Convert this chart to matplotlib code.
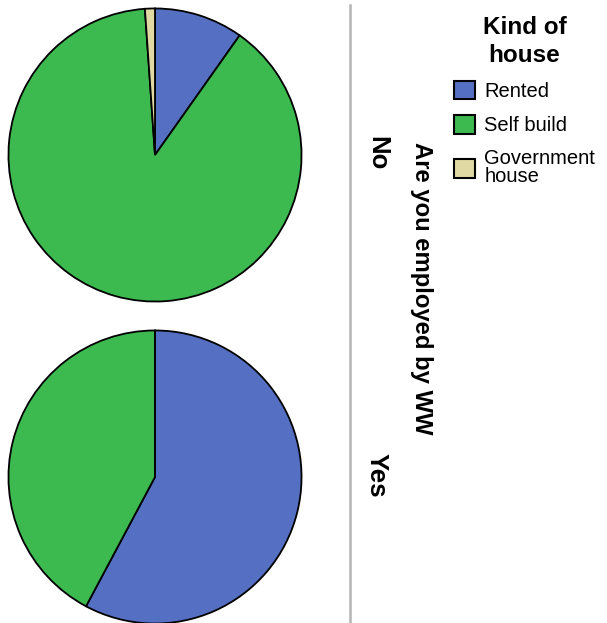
import matplotlib.pyplot as plt
import matplotlib.patches as mpatches

plt.rcParams['font.family'] = ['Liberation Sans', 'DejaVu Sans']

# data (percent of respondents per kind of house)
kinds = ['Rented', 'Self build', 'Government\nhouse']
colors = ['#5570C2', '#3DBA4F', '#E0D9A4']
groups = ['No', 'Yes']
share_no = [9.8, 89.1, 1.1]
share_yes = [57.8, 42.2, 0.0]
shares = [share_no, share_yes]

W, H = 607, 623
fig = plt.figure(figsize=(W / 100, H / 100), dpi=100)

# pies, one row per group
centers = [(155, 155), (155, 477)]
r = 148
for (cx, cy), vals in zip(centers, shares):
    ax = fig.add_axes([(cx - r) / W, 1 - (cy + r) / H, 2 * r / W, 2 * r / H])
    ax.pie(vals, colors=colors, startangle=90, counterclock=False,
           wedgeprops=dict(edgecolor='black', linewidth=1.3))
    ax.set_aspect('equal')
    ax.set_xlim(-1.01, 1.01)
    ax.set_ylim(-1.01, 1.01)

# panel divider
fig.add_artist(plt.Line2D([350 / W, 350 / W], [1 - 5 / H, 0.0],
                          color='#B4B4B4', linewidth=1.8))

# row labels and row title
for (cx, cy), g in zip(centers, groups):
    fig.text(377 / W, 1 - (cy - 2) / H, g, rotation=-90, ha='center', va='center',
             fontsize=18.5, fontweight='bold')
fig.text(422 / W, 1 - 288 / H, 'Are you employed by WW', rotation=-90,
         ha='center', va='center', fontsize=17.2, fontweight='bold')

# legend
handles = [mpatches.Patch(facecolor=c, edgecolor='black', linewidth=1.5) for c in colors]
leg = fig.legend(handles, kinds, loc='upper left',
                 bbox_to_anchor=(442 / W, 1 - 4 / H), frameon=False,
                 title='Kind of\nhouse', fontsize=14.5,
                 handlelength=1.05, handleheight=1.05, handletextpad=0.45,
                 labelspacing=0.7, borderaxespad=0.2)
leg.get_title().set_fontweight('bold')
leg.get_title().set_fontsize(17.5)
leg.get_title().set_multialignment('center')
leg.get_title().set_linespacing(1.25)
for t in leg.get_texts():
    t.set_linespacing(0.9)

fig.savefig('out.png', dpi=100)
